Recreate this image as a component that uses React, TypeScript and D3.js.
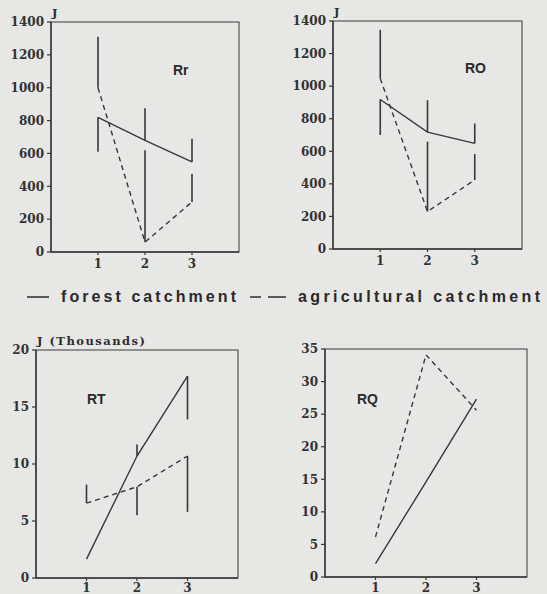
import React from "react";
import * as d3 from "d3";

const xCats = [1, 2, 3];
const xTickLabels = ["1", "2", "3"];

// Rr panel (J)
const rrForest = [820, 680, 548];
const rrForestErr = [610, 875, 690];
const rrAgri = [1000, 60, 305];
const rrAgriErr = [1310, 620, 475];
const rrTicks = [0, 200, 400, 600, 800, 1000, 1200, 1400];

// RO panel (J)
const roForest = [918, 718, 649];
const roForestErr = [700, 914, 771];
const roAgri = [1047, 230, 424];
const roAgriErr = [1346, 659, 583];
const roTicks = [0, 200, 400, 600, 800, 1000, 1200, 1400];

// RT panel (J thousands)
const rtForest = [1.66, 10.7, 17.7];
const rtForestErr = [1.66, 11.7, 13.9];
const rtAgri = [6.57, 8.0, 10.7];
const rtAgriErr = [8.2, 5.5, 5.8];
const rtTicks = [0, 5, 10, 15, 20];

// RQ panel
const rqForest = [2.05, 14.6, 27.3];
const rqAgri = [6.15, 34.1, 25.6];
const rqTicks = [0, 5, 10, 15, 20, 25, 30, 35];

const INK = "#383838";
const BG = "#e7e7e5";
const SERIF = "'DejaVu Serif', 'Liberation Serif', serif";
const SANS = "'Liberation Sans', Arial, sans-serif";

type PanelProps = {
  box: { left: number; top: number; right: number; bottom: number };
  yMax: number;
  ticks: number[];
  forest: number[];
  forestErr?: number[];
  agri: number[];
  agriErr?: number[];
  name: string;
  namePos: [number, number];
  unit: string;
  unitLen?: number;
};

function Panel(p: PanelProps) {
  const { box } = p;
  const x = d3.scaleLinear().domain([0, 4]).range([box.left, box.right]);
  const y = d3.scaleLinear().domain([0, p.yMax]).range([box.bottom, box.top]);
  const line = d3
    .line<number>()
    .x((_, i) => x(xCats[i]))
    .y((d) => y(d));
  const xLabY = Math.min(box.bottom + 16, 592);
  return (
    <g>
      <rect
        x={box.left}
        y={box.top}
        width={box.right - box.left}
        height={box.bottom - box.top}
        fill="none"
        stroke="#4a4a4a"
        strokeWidth={1.1}
      />
      <line x1={box.left} x2={box.left} y1={box.top} y2={box.bottom} stroke={INK} strokeWidth={1.5} />
      <line x1={box.left} x2={box.right} y1={box.bottom} y2={box.bottom} stroke={INK} strokeWidth={1.5} />
      {p.ticks.map((t) => (
        <g key={t}>
          <line x1={box.left - 4} x2={box.left} y1={y(t)} y2={y(t)} stroke={INK} strokeWidth={1.2} />
          <text
            x={box.left - 7}
            y={y(t)}
            dy="0.36em"
            textAnchor="end"
            fontFamily={SERIF}
            fontWeight="bold"
            fontSize={12}
            fill="#333"
          >
            {t}
          </text>
        </g>
      ))}
      {xCats.map((c, i) => (
        <g key={c}>
          <line x1={x(c)} x2={x(c)} y1={box.bottom} y2={box.bottom + 3} stroke={INK} strokeWidth={1.2} />
          <text
            x={x(c)}
            y={xLabY}
            textAnchor="middle"
            fontFamily={SERIF}
            fontWeight="bold"
            fontSize={12}
            fill="#333"
          >
            {xTickLabels[i]}
          </text>
        </g>
      ))}
      {p.unit && (
        <text
          x={box.left + 1}
          y={box.top - 5}
          fontFamily={SERIF}
          fontWeight="bold"
          fontSize={11.5}
          fill="#2e2e2e"
          textLength={p.unitLen}
          lengthAdjust={p.unitLen ? "spacing" : undefined}
        >
          {p.unit}
        </text>
      )}
      {p.forestErr &&
        p.forest.map((v, i) =>
          p.forestErr![i] !== v ? (
            <line
              key={"fe" + i}
              x1={x(xCats[i])}
              x2={x(xCats[i])}
              y1={y(v)}
              y2={y(p.forestErr![i])}
              stroke={INK}
              strokeWidth={1.6}
            />
          ) : null
        )}
      {p.agriErr &&
        p.agri.map((v, i) => (
          <line
            key={"ae" + i}
            x1={x(xCats[i])}
            x2={x(xCats[i])}
            y1={y(v)}
            y2={y(p.agriErr![i])}
            stroke={INK}
            strokeWidth={1.6}
          />
        ))}
      <path d={line(p.forest) || ""} fill="none" stroke={INK} strokeWidth={1.4} />
      <path d={line(p.agri) || ""} fill="none" stroke={INK} strokeWidth={1.4} strokeDasharray="5,4" />
      <text
        x={p.namePos[0]}
        y={p.namePos[1]}
        fontFamily={SANS}
        fontWeight="bold"
        fontSize={14}
        fill="#2a2a2a"
      >
        {p.name}
      </text>
    </g>
  );
}

export default function App() {
  return (
    <svg
      width={547}
      height={594}
      style={{ position: "absolute", left: 0, top: 0, display: "block" }}
    >
      <rect x={0} y={0} width={547} height={594} fill={BG} />
      <Panel
        box={{ left: 51, top: 22, right: 239, bottom: 252 }}
        yMax={1400}
        ticks={rrTicks}
        forest={rrForest}
        forestErr={rrForestErr}
        agri={rrAgri}
        agriErr={rrAgriErr}
        name="Rr"
        namePos={[173, 75]}
        unit="J"
      />
      <Panel
        box={{ left: 333, top: 21, right: 522, bottom: 249 }}
        yMax={1400}
        ticks={roTicks}
        forest={roForest}
        forestErr={roForestErr}
        agri={roAgri}
        agriErr={roAgriErr}
        name="RO"
        namePos={[465, 73]}
        unit="J"
      />
      <Panel
        box={{ left: 36, top: 350, right: 238, bottom: 578 }}
        yMax={20}
        ticks={rtTicks}
        forest={rtForest}
        forestErr={rtForestErr}
        agri={rtAgri}
        agriErr={rtAgriErr}
        name="RT"
        namePos={[87, 404]}
        unit="J (Thousands)"
        unitLen={108}
      />
      <Panel
        box={{ left: 325, top: 349, right: 527, bottom: 577 }}
        yMax={35}
        ticks={rqTicks}
        forest={rqForest}
        agri={rqAgri}
        name="RQ"
        namePos={[357, 404]}
        unit=""
      />
      {/* legend */}
      <line x1={27} x2={49} y1={297} y2={297} stroke={INK} strokeWidth={1.6} />
      <text x={61} y={302} fontFamily={SANS} fontWeight="bold" fontSize={16} fill="#2a2a2a" textLength={175} lengthAdjust="spacing">
        forest catchment
      </text>
      <line x1={250} x2={261} y1={297} y2={297} stroke={INK} strokeWidth={1.6} />
      <line x1={268} x2={286} y1={297} y2={297} stroke={INK} strokeWidth={1.6} />
      <text x={298} y={302} fontFamily={SANS} fontWeight="bold" fontSize={16} fill="#2a2a2a" textLength={242} lengthAdjust="spacing">
        agricultural catchment
      </text>
    </svg>
  );
}
